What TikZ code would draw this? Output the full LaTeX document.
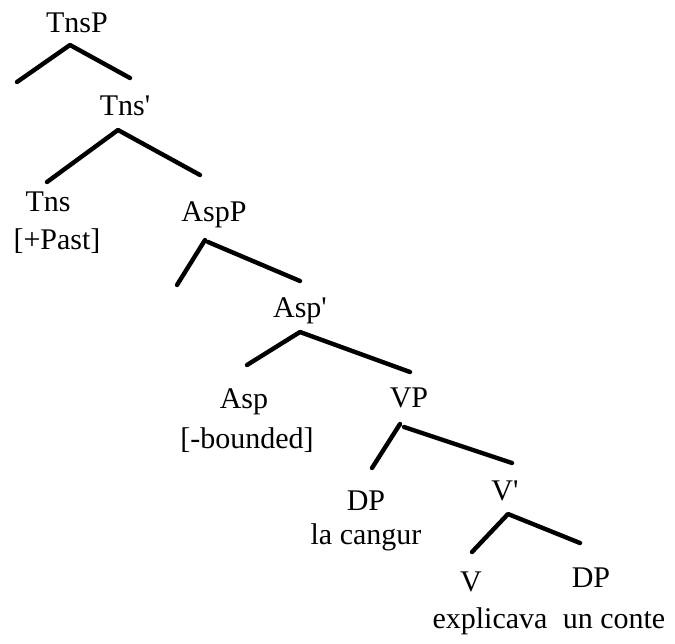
\documentclass[tikz,border=0pt]{standalone}
\usepackage{fontspec}
\setmainfont{Liberation Serif}

\tikzset{
  lbl/.style={anchor=base, inner sep=0pt, font=\fontsize{15}{18}\selectfont},
  branch/.style={line width=2.2pt, line cap=round, line join=round}
}
% straight prime for bar levels
\newcommand{\barlevel}{\textquotesingle}

\begin{document}
\begin{tikzpicture}[x=0.5pt, y=-0.5pt]
  \useasboundingbox (0, 0) rectangle (675, 643);

  % category labels
  \node[lbl] (tnsp) at (77, 32) {TnsP};
  \node[lbl] (tnsbar) at (125, 115) {Tns\barlevel};
  \node[lbl] (tns) at (48, 211) {Tns};
  \node[lbl] (past) at (57, 249) {[+Past]};
  \node[lbl] (aspp) at (214, 221) {AspP};
  \node[lbl] (aspbar) at (300, 317) {Asp\barlevel};
  \node[lbl] (asp) at (244, 408) {Asp};
  \node[lbl] (bounded) at (247, 448) {[-bounded]};
  \node[lbl] (vp) at (409, 407) {VP};
  \node[lbl] (dpsubj) at (366, 510) {DP};
  \node[lbl] (cangur) at (366, 544) {la cangur};
  \node[lbl] (vbar) at (505, 500) {V\barlevel};
  \node[lbl] (v) at (471, 591) {V};
  \node[lbl] (dpobj) at (591, 587) {DP};
  \node[lbl] (explicava) at (490, 628) {explicava};
  \node[lbl] (conte) at (614, 628) {un conte};

  % branch points
  \coordinate (tnsp-t) at (70, 45);
  \coordinate (tnsp-l) at (17, 82);
  \coordinate (tnsp-r) at (130, 78);
  \coordinate (tnsbar-t) at (118, 130);
  \coordinate (tnsbar-l) at (47, 182);
  \coordinate (tnsbar-r) at (200, 175);
  \coordinate (aspp-tl) at (205, 240);
  \coordinate (aspp-tr) at (208, 242);
  \coordinate (aspp-l) at (177, 285);
  \coordinate (aspp-r) at (300, 281);
  \coordinate (aspbar-t) at (300, 332);
  \coordinate (aspbar-l) at (247, 365);
  \coordinate (aspbar-r) at (410, 372);
  \coordinate (vp-tl) at (400, 424);
  \coordinate (vp-tr) at (404, 427);
  \coordinate (vp-l) at (372, 468);
  \coordinate (vp-r) at (512, 463);
  \coordinate (vbar-t) at (508, 514);
  \coordinate (vbar-l) at (472, 552);
  \coordinate (vbar-r) at (580, 543);

  % branches
  \draw[branch] (tnsp-l) -- (tnsp-t) -- (tnsp-r);
  \draw[branch] (tnsbar-l) -- (tnsbar-t) -- (tnsbar-r);
  \draw[branch] (aspp-l) -- (aspp-tl);
  \draw[branch] (aspp-tr) -- (aspp-r);
  \draw[branch] (aspbar-l) -- (aspbar-t) -- (aspbar-r);
  \draw[branch] (vp-l) -- (vp-tl);
  \draw[branch] (vp-tr) -- (vp-r);
  \draw[branch] (vbar-l) -- (vbar-t) -- (vbar-r);
\end{tikzpicture}
\end{document}
